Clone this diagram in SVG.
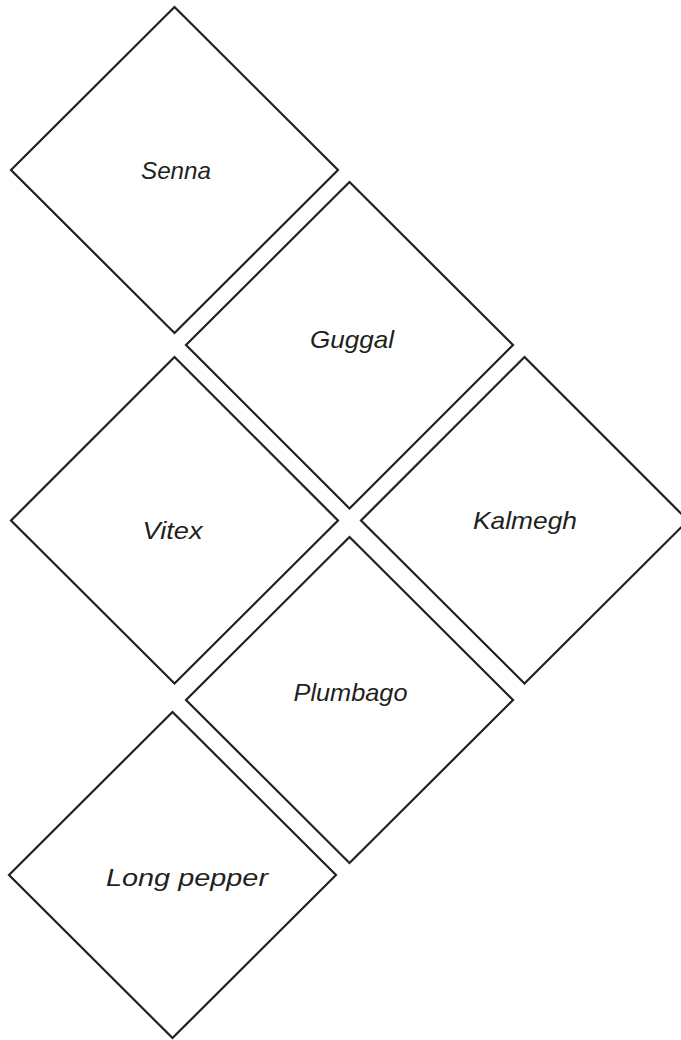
<svg xmlns="http://www.w3.org/2000/svg" width="681" height="1040" viewBox="0 0 681 1040">
<style>
.d{fill:#fff;stroke:#231f20;stroke-width:2.2}
.t{font-family:"Liberation Sans",Arial,sans-serif;font-style:italic;font-size:24px;fill:#231f20;text-anchor:middle}
</style>
<rect width="681" height="1040" fill="#fff"/>
<g id="senna"><polygon class="d" points="174.5,7 338,170 174.5,333 11,170"/><text class="t" x="176" y="179" textLength="70" lengthAdjust="spacingAndGlyphs">Senna</text></g>
<g id="guggal"><polygon class="d" points="349.5,182 513,345 349.5,508.5 186,345"/><text class="t" x="352" y="348" textLength="84" lengthAdjust="spacingAndGlyphs">Guggal</text></g>
<g id="vitex"><polygon class="d" points="174.5,357 338,520.5 174.5,683.5 11,520.5"/><text class="t" x="172.5" y="539" textLength="60" lengthAdjust="spacingAndGlyphs">Vitex</text></g>
<g id="kalmegh"><polygon class="d" points="524.5,357 688,520.5 524.5,683.5 361,520.5"/><text class="t" x="525" y="529" textLength="104" lengthAdjust="spacingAndGlyphs">Kalmegh</text></g>
<g id="plumbago"><polygon class="d" points="349.5,537 513,700 349.5,863 186,700"/><text class="t" x="350.5" y="701" textLength="114" lengthAdjust="spacingAndGlyphs">Plumbago</text></g>
<g id="longpepper"><polygon class="d" points="172.5,712 336,875 172.5,1038 9,875"/><text class="t" x="187" y="886" textLength="162" lengthAdjust="spacingAndGlyphs">Long pepper</text></g>
<g id="connectors"/>
</svg>
